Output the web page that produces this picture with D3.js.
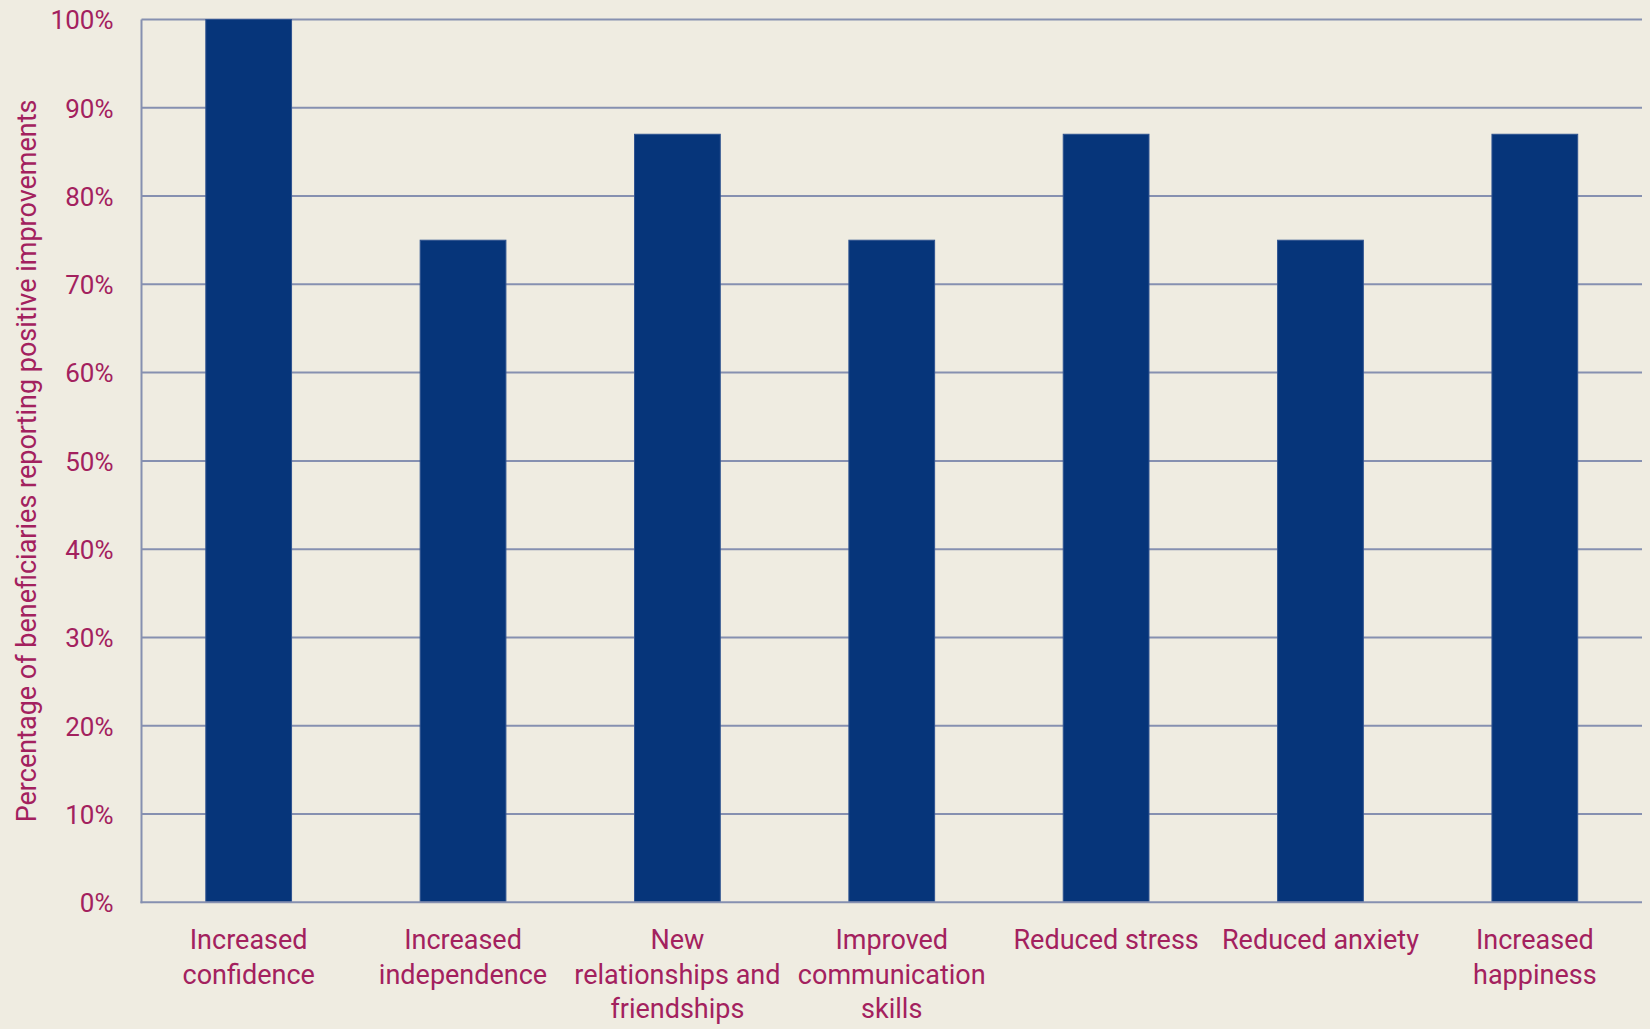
<!DOCTYPE html>
<html>
<head>
<meta charset="utf-8">
<script src="https://cdn.jsdelivr.net/npm/d3@7"></script>
<style>
  html, body { margin: 0; padding: 0; background: #efece1; }
  svg { display: block; }
  text { font-family: Roboto, "Noto Sans", sans-serif; fill: #a3215e; }
</style>
</head>
<body>
<svg id="chart" width="1650" height="1029"></svg>
<script>
const categories = [
  ["Increased", "confidence"],
  ["Increased", "independence"],
  ["New", "relationships and", "friendships"],
  ["Improved", "communication", "skills"],
  ["Reduced stress"],
  ["Reduced anxiety"],
  ["Increased", "happiness"]
];
const values = [100, 75, 87, 75, 87, 75, 87];
const yTicks = [0, 10, 20, 30, 40, 50, 60, 70, 80, 90, 100];
const yTitle = "Percentage of beneficiaries reporting positive improvements";

(function () {
const svg = d3.select("#chart");
const plotLeft = 141.5, plotRight = 1642, plotTop = 19.5, plotBottom = 902.3;

const keys = categories.map((c, i) => i);
const x = d3.scaleBand().domain(keys).range([plotLeft, plotRight]).paddingInner(0.6).paddingOuter(0.3);
const y = d3.scaleLinear().domain([0, 100]).range([plotBottom, plotTop]);

// gridlines
svg.append("g").selectAll("line").data(yTicks.filter(t => t > 0)).join("line")
  .attr("x1", plotLeft).attr("x2", plotRight)
  .attr("y1", d => y(d)).attr("y2", d => y(d))
  .attr("stroke", "#8690b0").attr("stroke-width", 2);

// bars
svg.append("g").selectAll("rect").data(values).join("rect")
  .attr("x", (d, i) => x(i))
  .attr("width", x.bandwidth())
  .attr("y", d => y(d))
  .attr("height", d => y(0) - y(d))
  .attr("fill", "#06357a")
  .attr("stroke", "#2f5390").attr("stroke-width", 1);

// axes lines
svg.append("line").attr("x1", plotLeft).attr("x2", plotLeft).attr("y1", plotTop).attr("y2", plotBottom + 1)
  .attr("stroke", "#8690b0").attr("stroke-width", 2);
svg.append("line").attr("x1", plotLeft - 1).attr("x2", plotRight).attr("y1", plotBottom).attr("y2", plotBottom)
  .attr("stroke", "#8690b0").attr("stroke-width", 2);

// y tick labels
const yAxis = d3.axisLeft(y).tickValues(yTicks).tickFormat(d => d + "%").tickSize(0).tickPadding(28);
const yg = svg.append("g").attr("transform", `translate(${plotLeft},0)`).call(yAxis);
yg.select(".domain").remove();
yg.selectAll("text").attr("font-size", 26).style("fill", "#a3215e")
  .style("font-family", "Roboto, sans-serif").attr("dy", "0.36em");

// x category labels
const xl = svg.append("g");
categories.forEach((lines, i) => {
  const cx = x(i) + x.bandwidth() / 2;
  const t = xl.append("text")
    .attr("x", cx)
    .attr("y", 949)
    .attr("text-anchor", "middle")
    .attr("font-size", 27);
  lines.forEach((ln, j) => {
    t.append("tspan").attr("x", cx).attr("dy", j === 0 ? 0 : 34.6).text(ln);
  });
});

// y title
svg.append("text")
  .attr("transform", `translate(36,${(plotTop + plotBottom) / 2}) rotate(-90)`)
  .attr("text-anchor", "middle")
  .attr("font-size", 27)
  .text(yTitle);
})();
</script>
</body>
</html>
